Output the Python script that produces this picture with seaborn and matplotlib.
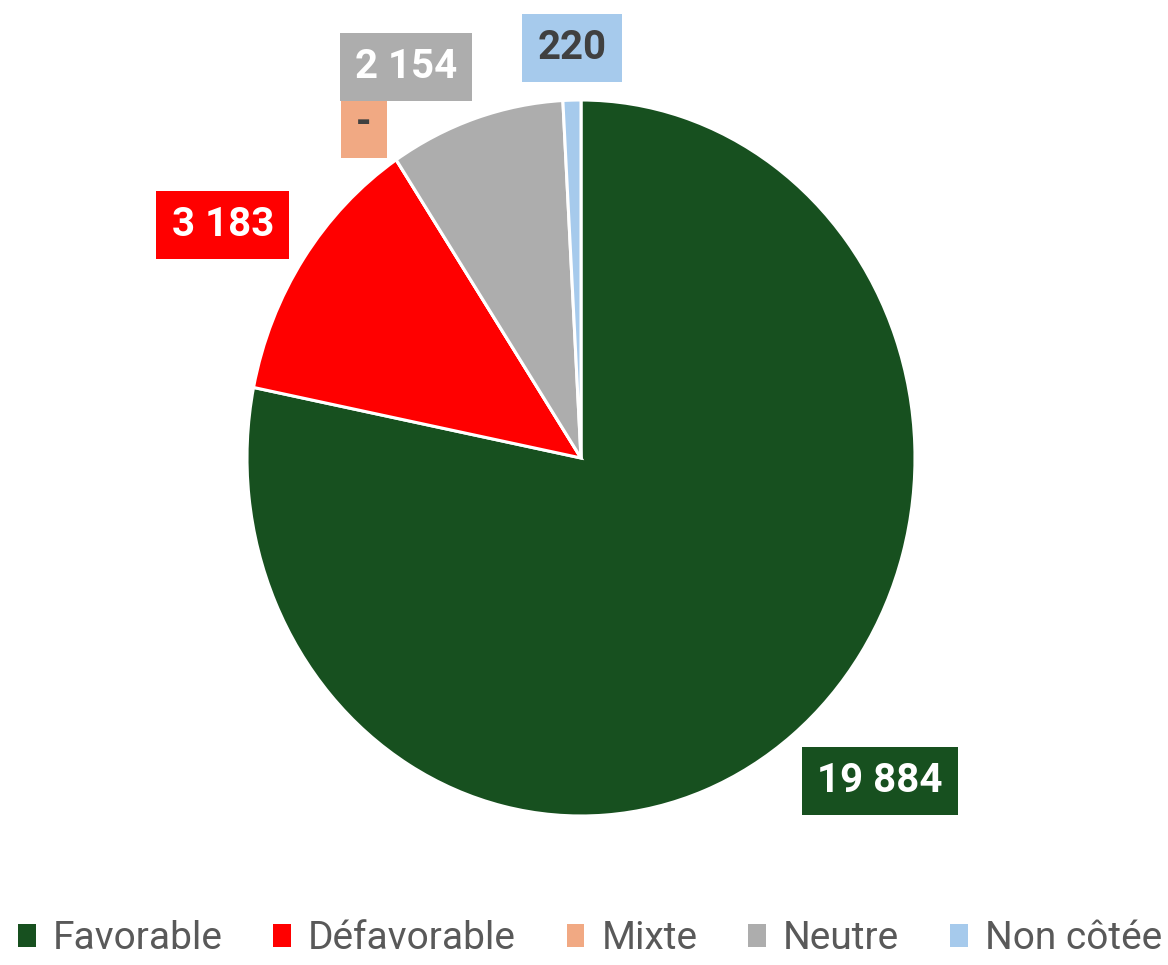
import matplotlib
matplotlib.use("Agg")
import matplotlib.pyplot as plt
from matplotlib.patches import Patch
import seaborn as sns

categories = ["Favorable", "Défavorable", "Mixte", "Neutre", "Non côtée"]
values = [19884, 3183, 0, 2154, 220]
colors = ["#17501F", "#FF0000", "#F1A983", "#ADADAD", "#A6CAEC"]
label_colors = ["white", "white", "#404040", "white", "#404040"]
# label box centres, in pie data units (radius = 1)
label_pos = [(0.895, -0.902), (-1.072, 0.651), (-0.65, 0.935), (-0.524, 1.092), (-0.027, 1.145)]

sns.set_style("white")
plt.rcParams['font.family'] = ['Roboto', 'DejaVu Sans']

fig = plt.figure(figsize=(11.68, 9.65), dpi=100)
ax = fig.add_axes([247 / 1168, 1 - 816 / 965, 668 / 1168, 716 / 965])

wedges, _ = ax.pie(
    values,
    colors=colors,
    startangle=90,
    counterclock=False,
    wedgeprops={"edgecolor": "white", "linewidth": 2.2},
)
ax.set_aspect('auto')
ax.set_xlim(-1, 1)
ax.set_ylim(-1, 1)
ax.axis('off')

for val, col, tcol, (x, y) in zip(values, colors, label_colors, label_pos):
    txt = f"{val:,}".replace(",", " ") if val else "-"
    ax.text(x, y, txt, ha='center', va='center', fontsize=29, fontweight='bold',
            color=tcol, clip_on=False,
            bbox=dict(boxstyle='square,pad=0.38', facecolor=col, edgecolor='none'))

handles = [Patch(facecolor=c, edgecolor='none') for c in colors]
leg = fig.legend(handles, categories, loc='lower center', bbox_to_anchor=(0.505, -0.028),
                 ncol=5, frameon=False, fontsize=28, handlelength=0.46, handleheight=0.55,
                 handletextpad=0.44, columnspacing=1.3)
for t in leg.get_texts():
    t.set_color('#595959')

plt.savefig("out.png", dpi=100)
plt.close()
